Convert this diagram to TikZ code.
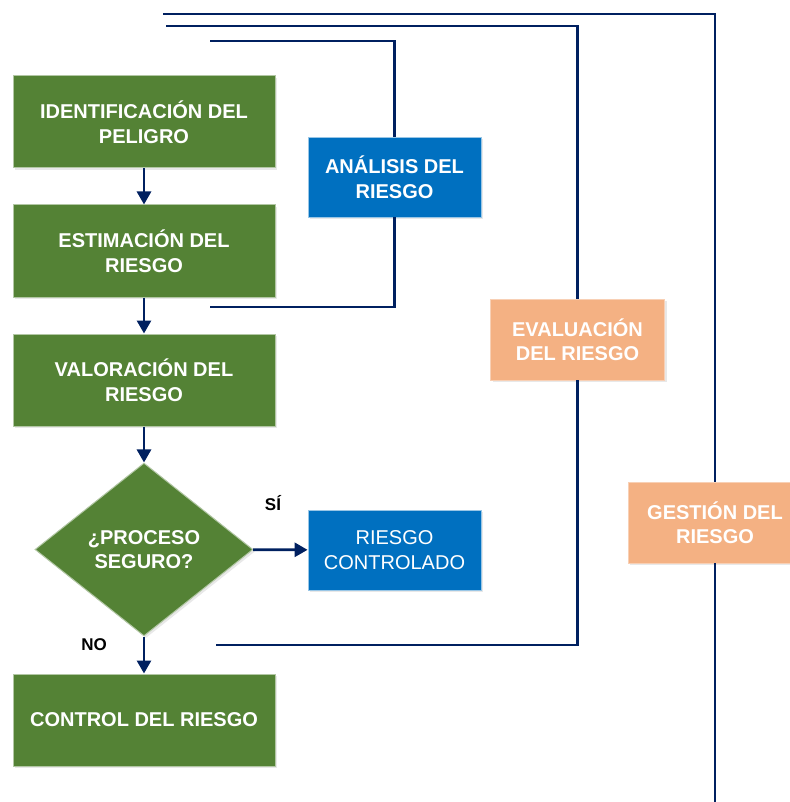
\documentclass[tikz,border=0pt]{standalone}
\usepackage{fontspec}
\setmainfont{Liberation Sans}
\usetikzlibrary{shapes.geometric, arrows.meta, shadows}
\definecolor{verde}{HTML}{548235}
\definecolor{azul}{HTML}{0070C0}
\definecolor{naranja}{HTML}{F4B183}
\definecolor{marino}{HTML}{002060}
\newcommand{\textobox}{\fontsize{20}{24.5}\selectfont}
\tikzset{
  CajaStyle/.style = {rectangle, align=center, text=white, inner sep=0pt,
    drop shadow={shadow xshift=2pt, shadow yshift=-2pt, opacity=0.18}},
  CajaVerde/.style = {CajaStyle, fill=verde, draw=verde!45!white, line width=1pt,
    minimum width=262pt, minimum height=92pt, font=\textobox\bfseries},
  CajaAzul/.style = {CajaStyle, fill=azul, draw=azul!40!white, line width=0.8pt,
    minimum width=173pt, minimum height=80pt, font=\textobox\bfseries},
  CajaNaranja/.style = {CajaStyle, fill=naranja, draw=naranja!60!white, line width=0.8pt,
    minimum width=174pt, minimum height=81pt, font=\textobox\bfseries},
  Rombo/.style = {diamond, fill=verde, draw=verde!45!white, line width=1pt, align=center,
    text=white, inner sep=0pt, minimum width=218pt, minimum height=173pt,
    font=\textobox\bfseries,
    drop shadow={shadow xshift=2pt, shadow yshift=-2pt, opacity=0.18}},
  Flecha/.style = {draw=marino, line width=2.8pt, -{Triangle[length=13pt, width=14pt]}},
  Llave/.style = {draw=marino, line width=2.2pt},
  Etiqueta/.style = {font=\fontsize{17}{20}\selectfont\bfseries}
}

\begin{document}
\begin{tikzpicture}[x=1pt, y=1pt]
    \useasboundingbox (0,0) rectangle (789,-802);
    % columna principal
    \node[CajaVerde] (identificacion) at (144,-122) {IDENTIFICACIÓN DEL\\PELIGRO};
    \node[CajaVerde] (estimacion) at (144,-251) {ESTIMACIÓN DEL\\RIESGO};
    \node[CajaVerde] (valoracion) at (144,-380) {VALORACIÓN DEL\\RIESGO};
    \node[Rombo] (proceso) at (144,-549.5) {¿PROCESO\\SEGURO?};
    \node[CajaVerde] (control) at (144,-720) {CONTROL DEL RIESGO};
    % cajas laterales
    \node[CajaAzul] (analisis) at (394.5,-177) {ANÁLISIS DEL\\RIESGO};
    \node[CajaAzul, font=\textobox] (controlado) at (394.5,-550) {RIESGO\\CONTROLADO};
    \node[CajaNaranja] (evaluacion) at (577.5,-339.5) {EVALUACIÓN\\DEL RIESGO};
    \node[CajaNaranja] (gestion) at (715,-522.5) {GESTIÓN DEL\\RIESGO};
    \node[Etiqueta] (si) at (273,-503) {SÍ};
    \node[Etiqueta] (no) at (94,-645) {NO};
    % extremos de las llaves
    \coordinate (a1) at (210,-41);
    \coordinate (a2) at (210,-307);
    \coordinate (e1) at (166,-26);
    \coordinate (e2) at (216,-645);
    \coordinate (g1) at (163,-14);
    \coordinate (g2) at (715,-802);
    \draw[Llave] (a1) -| (analisis.north);
    \draw[Llave] (analisis.south) |- (a2);
    \draw[Llave] (e1) -| (evaluacion.north);
    \draw[Llave] (evaluacion.south) |- (e2);
    \draw[Llave] (g1) -| (gestion.north);
    \draw[Llave] (gestion.south) -- (g2);
    % flechas
    \draw[Flecha] (identificacion) -- (estimacion);
    \draw[Flecha] (estimacion) -- (valoracion);
    \draw[Flecha] (valoracion) -- (proceso);
    \draw[Flecha] (proceso) -- (control);
    \draw[Flecha] (proceso) -- (controlado);
\end{tikzpicture}
\end{document}
